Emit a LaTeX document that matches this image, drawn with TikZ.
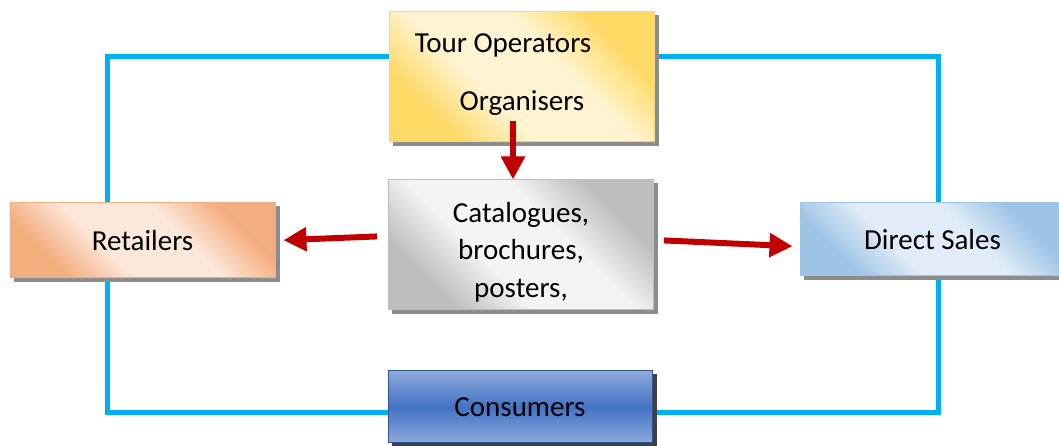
\documentclass[tikz,border=0pt]{standalone}
\usepackage{fontspec}
\setmainfont{Carlito}
\usepackage{xcolor}
\usepackage{tikz}
\usetikzlibrary{positioning, arrows.meta, backgrounds}

\definecolor{loopblue}{HTML}{00B0F0}
\definecolor{arrowred}{HTML}{C00000}
\definecolor{tourdark}{HTML}{FFD966}
\definecolor{tourlight}{HTML}{FFF4D2}
\definecolor{tourline}{HTML}{F6D77C}
\definecolor{retdark}{HTML}{F3AE80}
\definecolor{retlight}{HTML}{FCE8DB}
\definecolor{dirdark}{HTML}{9DC3E6}
\definecolor{dirlight}{HTML}{E1ECF8}
\definecolor{catdark}{HTML}{BDBDBD}
\definecolor{catlight}{HTML}{F4F4F4}
\definecolor{consdark}{HTML}{4472C4}
\definecolor{conslight}{HTML}{8EA9DB}
\definecolor{consline}{HTML}{2F5597}

% diagonal shading: dark corners, wide light band
\newcommand{\diagshade}[3]{%
  \pgfdeclareverticalshading{#1}{100bp}{color(0bp)=(#2); color(27bp)=(#2);
    color(41bp)=(#3); color(59bp)=(#3); color(73bp)=(#2); color(100bp)=(#2)}}
\diagshade{tourshade}{tourdark}{tourlight}
\diagshade{retshade}{retdark}{retlight}
\diagshade{dirshade}{dirdark}{dirlight}
\diagshade{catshade}{catdark}{catlight}

\begin{document}
\begin{tikzpicture}[
    x=1pt, y=1pt,
    box/.style={
        draw,
        line width=1pt,
        shading angle=-45,
        font=\fontsize{29}{37.5}\selectfont,
        align=center,
        minimum width=265pt,
        inner sep=0pt
    },
    shadowbox/.style={fill=black!45, draw=none},
    txt/.style={font=\fontsize{29}{37.5}\selectfont, inner sep=0pt, align=center},
    arrow/.style={-{Triangle[length=23pt,width=23pt]}, line width=6pt, arrowred},
    loopline/.style={line width=5pt, loopblue}
]
\useasboundingbox (0,0) rectangle (1059,446);

% boxes
\node[box, draw=tourline, shading=tourshade, minimum height=130pt] (tour) at (522,369) {};
\node[txt] (tourtxt) at (503,401) {Tour Operators};
\node[txt] (orgtxt) at (522,343) {Organisers};

\node[box, draw=catdark, shading=catshade, minimum height=130pt] (cat) at (521,201) {};
\node[txt] (cattxt) at (521,194) {Catalogues,\\brochures,\\posters,};

\node[box, draw=retdark, shading=retshade, minimum height=75pt] (ret) at (142.5,205.5) {Retailers};

\node[box, draw=dirdark, shading=dirshade, minimum height=73pt] (dir) at (932.5,206.5) {Direct Sales};

\node[box, draw=consline, shading angle=0, top color=conslight, bottom color=conslight, middle color=consdark,
      minimum width=264pt, minimum height=72pt] (cons) at (520,39) {Consumers};

% blue loop and shadows behind the boxes
\begin{scope}[on background layer]
\draw[loopline] ([yshift=20pt]tour.west) -- ++(-282,0) |- ([yshift=-6pt]cons.west);
\draw[loopline] ([yshift=20pt]tour.east) -- ++(283,0) |- ([yshift=-6pt]cons.east);
\foreach \b in {tour, cat, ret, dir}
    \fill[shadowbox] ([shift={(4,-4)}]\b.south west) rectangle ([shift={(4,-4)}]\b.north east);
\fill[shadowbox, fill=black!75] ([shift={(4,-4)}]cons.south west) rectangle ([shift={(4,-4)}]cons.north east);
\end{scope}

% red arrows
\coordinate (orgbot) at (513,325);
\draw[arrow] (orgbot) -- (orgbot |- cat.north);
\draw[arrow, shorten <=11pt, shorten >=8pt] ([yshift=9pt]cat.west) -- (ret.east);
\draw[arrow, shorten <=10pt, shorten >=7pt] ([yshift=5pt]cat.east) -- ([yshift=-7pt]dir.west);

\end{tikzpicture}
\end{document}
